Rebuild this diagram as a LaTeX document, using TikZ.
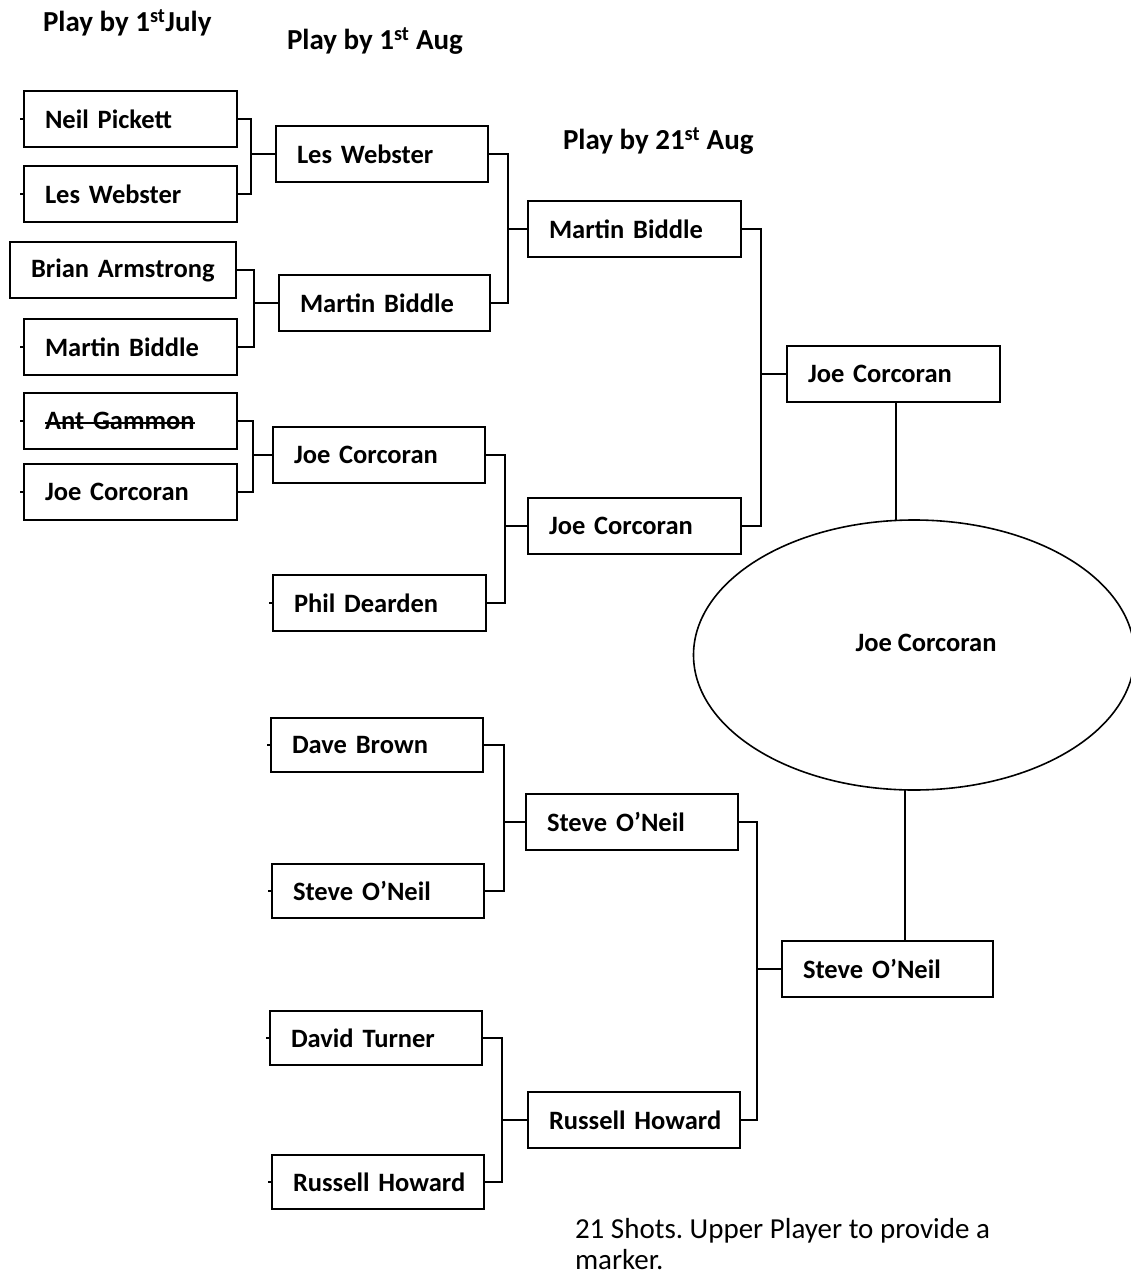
\documentclass[tikz,border=0pt]{standalone}
\usepackage{fontspec}
\setmainfont{Carlito}
\frenchspacing
\newcommand\strikeout[1]{\leavevmode\setbox0\hbox{#1}\rlap{\rule[0.2em]{\wd0}{2.2pt}}\box0}
\usetikzlibrary{shapes.geometric}
\begin{document}
\begin{tikzpicture}[x=1pt,y=-1pt,
  every node/.style={inner sep=0pt,outer sep=0pt},
  pbox/.style={draw,line width=1.6pt,minimum height=56pt,inner xsep=21pt,align=left,anchor=west,
    font=\bfseries\fontsize{26.5}{32}\selectfont},
  hdr/.style={anchor=base west,font=\bfseries\fontsize{29}{34}\selectfont},
  link/.style={line width=1.6pt},
  stub/.style={line width=1.4pt}]
\useasboundingbox (0,0) rectangle (1131,1276);
% headers
\node[hdr] (h1) at (43,32) {Play by 1\textsuperscript{st}July};
\node[hdr] (h2) at (287,50) {Play by 1\textsuperscript{st} Aug};
\node[hdr] (h3) at (563,150) {Play by 21\textsuperscript{st} Aug};
% round 1
\node[pbox,text width=171pt] (a1) at (24,119) {\mbox{Neil Pickett}};
\node[pbox,text width=171pt] (a2) at (24,194) {\mbox{Les Webster}};
\node[pbox,text width=184pt] (a3) at (10,270) {\mbox{Brian Armstrong}};
\node[pbox,text width=171pt] (a4) at (24,347) {\mbox{Martin Biddle}};
\node[pbox,text width=171pt] (a5) at (24,421) {\strikeout{Ant Gammon}};
\node[pbox,text width=171pt] (a6) at (24,492) {\mbox{Joe Corcoran}};
% round 2
\node[pbox,text width=170pt] (b1) at (276,154) {\mbox{Les Webster}};
\node[pbox,text width=169pt] (b2) at (279,303) {\mbox{Martin Biddle}};
\node[pbox,text width=170pt] (b3) at (273,455) {\mbox{Joe Corcoran}};
\node[pbox,text width=171pt] (b4) at (273,603) {\mbox{Phil Dearden}};
\node[pbox,text width=170pt,minimum height=54pt] (b5) at (271,745) {\mbox{Dave Brown}};
\node[pbox,text width=170pt,minimum height=54pt] (b6) at (272,891) {\mbox{Steve O’Neil}};
\node[pbox,text width=170pt,minimum height=54pt] (b7) at (270,1038) {\mbox{David Turner}};
\node[pbox,text width=170pt,minimum height=54pt] (b8) at (272,1182) {\mbox{Russell Howard}};
% round 3
\node[pbox,text width=171pt] (c1) at (528,229) {\mbox{Martin Biddle}};
\node[pbox,text width=171pt] (c2) at (528,526) {\mbox{Joe Corcoran}};
\node[pbox,text width=170pt] (c3) at (526,822) {\mbox{Steve O’Neil}};
\node[pbox,text width=170pt] (c4) at (528,1120) {\mbox{Russell Howard}};
% round 4
\node[pbox,text width=171pt] (d1) at (787,374) {\mbox{Joe Corcoran}};
\node[pbox,text width=169pt] (d2) at (782,969) {\mbox{Steve O’Neil}};
% final
\node[draw,ellipse,line width=1.6pt,minimum width=441pt,minimum height=270pt,
  label={[xshift=12pt,yshift=12pt,font=\bfseries\fontsize{26.5}{32}\selectfont]center:Joe Corcoran}] (fin) at (914,655) {};
% junctions
\coordinate (j1) at (251,154);
\coordinate (j2) at (254,303);
\coordinate (j3) at (253,455);
\coordinate (j4) at (508,229);
\coordinate (j5) at (505,526);
\coordinate (j6) at (504,822);
\coordinate (j7) at (502,1120);
\coordinate (j8) at (761,374);
\coordinate (j9) at (757,969);
\foreach \u/\v/\j/\w in {a1/a2/j1/b1,a3/a4/j2/b2,a5/a6/j3/b3,b1/b2/j4/c1,b3/b4/j5/c2,b5/b6/j6/c3,b7/b8/j7/c4,c1/c2/j8/d1,c3/c4/j9/d2}{
  \draw[link] (\u.east) -| (\j);
  \draw[link] (\v.east) -| (\j);
  \draw[link] (\j) -- (\w.west);
}
% links to final
\draw[link] ([xshift=2.5pt]d1.south) -- ([xshift=2.5pt]d1.south |- fin.north);
\draw[link] ([xshift=-9pt]fin.south) -- ([xshift=-9pt]fin.south |- d2.north);
% stubs
\foreach \n in {a1,a2,a4,a5,a6,b4,b5,b6,b7,b8}{
  \draw[stub] (\n.west) -- ++(-4,0);
}
% note
\node[anchor=base west,align=left,font=\fontsize{29}{31}\selectfont] (note) at (575,1269) {21 Shots. Upper Player to provide a\\marker.};
\end{tikzpicture}
\end{document}
